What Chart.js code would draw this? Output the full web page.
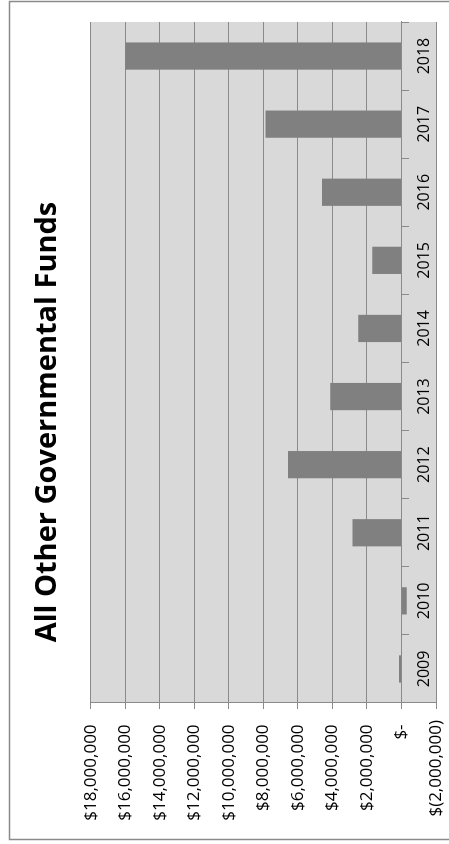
<!DOCTYPE html>
<html>
<head>
<meta charset="utf-8">
<script src="https://cdn.jsdelivr.net/npm/chart.js@4.4.1/dist/chart.umd.min.js"></script>
<style>
  html, body { margin: 0; padding: 0; background: #fff; overflow: hidden; }
  #page { position: relative; width: 449px; height: 844px; overflow: hidden; }
  /* chart is drawn landscape, then turned a quarter to the left */
  #wrap {
    position: absolute; left: 0; top: 0;
    width: 844px; height: 449px;
    transform-origin: 0 0;
    transform: translate(0, 844px) rotate(-90deg);
  }
</style>
</head>
<body>
<div id="page">
  <div id="wrap"><canvas id="grafico" width="844" height="449"></canvas></div>
</div>
<script>
const anios = ['2009', '2010', '2011', '2012', '2013', '2014', '2015', '2016', '2017', '2018'];
const montos = [150000, -300000, 2840000, 6570000, 4120000, 2510000, 1700000, 4600000, 7880000, 16000000];
const titulo = 'All Other Governmental Funds';

const fuente = '"Open Sans", "Liberation Sans", sans-serif';
const gris = '#8a8a8a';

// formato contable tipo Excel
function formatoMonto(v) {
    if (v === 0) return '$- ';
    const s = Math.abs(v).toLocaleString('en-US');
    return v < 0 ? '$(' + s + ')' : '$' + s + ' ';
}

const fondoPlot = {
    id: 'fondoPlot',
    beforeDraw(chart) {
        const { ctx, chartArea: a } = chart;
        ctx.save();
        ctx.fillStyle = '#d9d9d9';
        ctx.fillRect(a.left, a.top, a.right - a.left, a.bottom - a.top);
        ctx.strokeStyle = gris;
        ctx.lineWidth = 1.5;
        ctx.strokeRect(4.5, 9.5, 838, 470);
        ctx.restore();
    }
};

const ctx = document.getElementById('grafico').getContext('2d');
new Chart(ctx, {
    type: 'bar',
    data: {
        labels: anios,
        datasets: [{
            data: montos,
            backgroundColor: '#808080',
            borderWidth: 0,
            barPercentage: 0.4,
            categoryPercentage: 1.0
        }]
    },
    options: {
        responsive: false,
        animation: false,
        layout: { padding: { top: 0, left: 22, right: 22, bottom: 13 } },
        plugins: {
            legend: { display: false },
            tooltip: { enabled: false },
            title: {
                display: true,
                text: titulo,
                color: '#000',
                font: { family: fuente, size: 29, weight: 'bold' },
                padding: { top: 30, bottom: 26 }
            }
        },
        scales: {
            x: {
                position: { y: 0 },
                grid: {
                    display: true,
                    drawOnChartArea: false,
                    drawTicks: true,
                    tickLength: 7,
                    tickColor: gris,
                    offset: true
                },
                border: { display: true, color: gris },
                ticks: { color: '#000', font: { family: fuente, size: 16 }, padding: 6, maxRotation: 0 }
            },
            y: {
                min: -2000000,
                max: 18000000,
                afterFit(scale) {
                    scale.width = 119;
                    // que el margen de las etiquetas no achique el área del gráfico
                    scale.paddingTop = 0;
                    scale.paddingBottom = 0;
                },
                grid: { color: gris, lineWidth: 1, tickLength: 6, tickColor: gris },
                border: { display: true, color: gris },
                ticks: {
                    stepSize: 2000000,
                    color: '#000',
                    font: { family: fuente, size: 17 },
                    padding: 11,
                    callback: v => formatoMonto(v)
                }
            }
        }
    },
    plugins: [fondoPlot]
});
</script>
</body>
</html>
